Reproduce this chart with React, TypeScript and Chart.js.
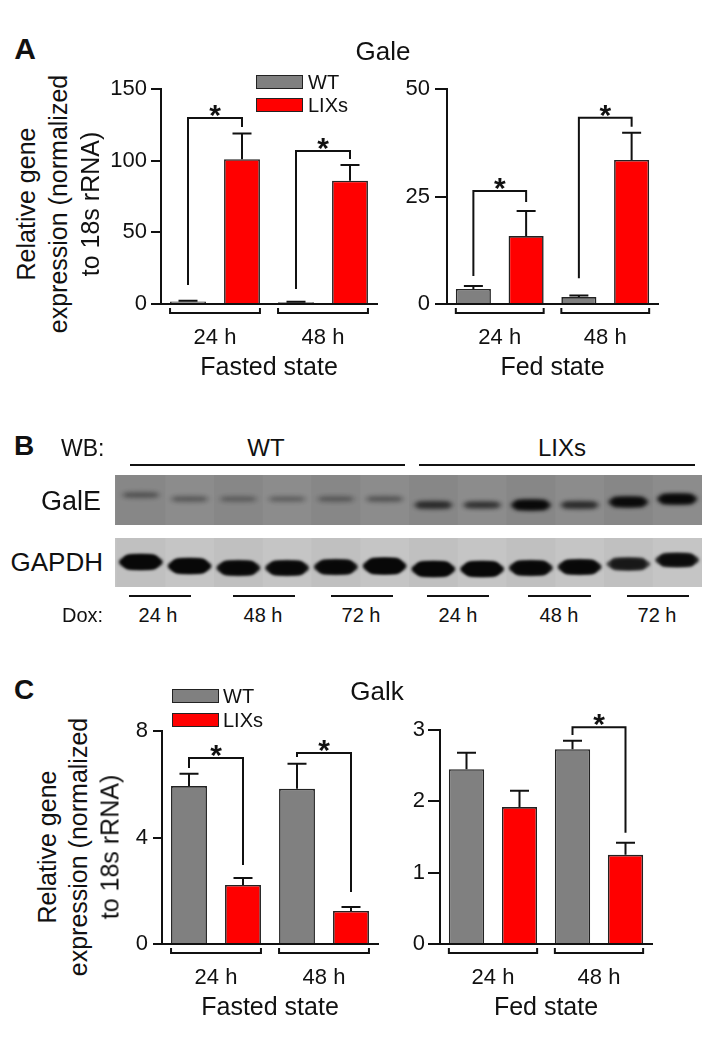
import React, { useEffect, useRef } from 'react';
import { Chart, registerables } from 'chart.js';
Chart.register(...registerables);

const FONT = '"Liberation Sans", Arial, Helvetica, sans-serif';

// ---------- DATA ----------
const timeLabels = ['24 h', '48 h'];
const seriesNames = ['WT', 'LIXs'];

// Panel A: Gale
const galeFastedWT = [1.8, 1.2];
const galeFastedWTErr = [0.4, 0.3];
const galeFastedLIX = [101, 86];
const galeFastedLIXErr = [18, 11];
const galeFedWT = [3.5, 1.6];
const galeFedWTErr = [0.7, 0.4];
const galeFedLIX = [15.8, 33.5];
const galeFedLIXErr = [5.8, 6.3];

// Panel C: Galk
const galkFastedWT = [5.93, 5.83];
const galkFastedWTErr = [0.46, 0.94];
const galkFastedLIX = [2.22, 1.24];
const galkFastedLIXErr = [0.26, 0.15];
const galkFedWT = [2.45, 2.73];
const galkFedWTErr = [0.23, 0.12];
const galkFedLIX = [1.92, 1.25];
const galkFedLIXErr = [0.23, 0.17];

// Significance brackets: [group, WT leg bottom, bracket top, LIXs leg bottom] (axis units)
const galeFastedSig = [[0, 13.3, 129.8, 123.5], [1, 10.5, 106.7, 101.2]];
const galeFedSig = [[0, 6.5, 26.3, 23.7], [1, 6.0, 43.3, 41.2]];
const galkFastedSig = [[0, 6.61, 6.99, 2.97], [1, 7.02, 7.17, 1.95]];
const galkFedSig = [[1, 2.93, 3.04, 1.56]];

// Panel B: western blot (12 lanes)
const blotLanes = [1, 2, 3, 4, 5, 6, 7, 8, 9, 10, 11, 12];
const blotGroups = ['WT', 'LIXs'];
const blotDoxLabels = ['24 h', '48 h', '72 h', '24 h', '48 h', '72 h'];
const galEIntensity = [0.24, 0.22, 0.2, 0.2, 0.21, 0.24, 0.5, 0.45, 0.92, 0.5, 0.9, 0.95];
const galEMigration = [20, 24, 24, 24, 24, 24, 30, 30, 30, 30, 27, 24];
const gapdhIntensity = [1, 1, 0.95, 0.95, 0.95, 1.1, 1, 1, 0.95, 0.95, 0.7, 0.85];
const gapdhMigration = [24, 28, 30, 30, 29, 28, 31, 31, 30, 29, 26, 22];

// ---------- helpers ----------
type Rect = { x: number; y: number; w: number; h: number };
type Area = { l: number; r: number; t: number; b: number };

function BarPanel(props: {
  rect: Rect; area: Area; wt: number[]; wtErr: number[]; lix: number[]; lixErr: number[];
  yMax: number; yStep: number; tickLen: number; tickPad: number; xTitle: string; sig: number[][];
}) {
  const ref = useRef<HTMLCanvasElement>(null);
  useEffect(() => {
    const { rect, area } = props;
    const errs = [props.wtErr, props.lixErr];
    const extras = {
      id: 'extras',
      afterDatasetsDraw(chart: any) {
        const ctx = chart.ctx as CanvasRenderingContext2D;
        const ys = chart.scales.y;
        ctx.save();
        ctx.strokeStyle = '#111';
        ctx.lineWidth = 2;
        ctx.lineCap = 'butt';
        // error bars
        chart.data.datasets.forEach((ds: any, di: number) => {
          const meta = chart.getDatasetMeta(di);
          meta.data.forEach((bar: any, i: number) => {
            const yt = ys.getPixelForValue(ds.data[i] + errs[di][i]);
            ctx.beginPath();
            ctx.moveTo(bar.x, bar.y);
            ctx.lineTo(bar.x, yt);
            ctx.moveTo(bar.x - 9.5, yt);
            ctx.lineTo(bar.x + 9.5, yt);
            ctx.stroke();
          });
        });
        // category brackets below axis
        const m0 = chart.getDatasetMeta(0), m1 = chart.getDatasetMeta(1);
        const by = chart.chartArea.bottom + 9;
        m0.data.forEach((b0: any, i: number) => {
          const b1 = m1.data[i];
          const xl = b0.x - b0.width / 2, xr = b1.x + b1.width / 2;
          ctx.beginPath();
          ctx.moveTo(xl, by - 5);
          ctx.lineTo(xl, by);
          ctx.lineTo(xr, by);
          ctx.lineTo(xr, by - 5);
          ctx.stroke();
        });
        // significance brackets
        props.sig.forEach((s) => {
          const g = s[0];
          const xl = m0.data[g].x, xr = m1.data[g].x;
          const yl = ys.getPixelForValue(s[1]);
          const yt = ys.getPixelForValue(s[2]);
          const yr = ys.getPixelForValue(s[3]);
          ctx.beginPath();
          ctx.moveTo(xl, yl);
          ctx.lineTo(xl, yt);
          ctx.lineTo(xr, yt);
          ctx.lineTo(xr, yr);
          ctx.stroke();
          ctx.fillStyle = '#111';
          ctx.font = `bold 30px ${FONT}`;
          ctx.textAlign = 'center';
          ctx.textBaseline = 'alphabetic';
          ctx.fillText('*', (xl + xr) / 2, yt + 7);
        });
        ctx.restore();
      },
    };
    const chart = new Chart(ref.current!, {
      type: 'bar',
      data: {
        labels: timeLabels,
        datasets: [
          { label: seriesNames[0], data: props.wt, backgroundColor: '#808080', borderColor: '#222', borderWidth: 1.6 },
          { label: seriesNames[1], data: props.lix, backgroundColor: '#ff0000', borderColor: '#222', borderWidth: 1.6 },
        ],
      },
      options: {
        responsive: false,
        animation: false,
        events: [],
        layout: { padding: { left: 0, bottom: 0, top: area.t - rect.y, right: rect.x + rect.w - area.r } },
        datasets: { bar: { categoryPercentage: 1, barPercentage: 0.665 } },
        plugins: { legend: { display: false }, tooltip: { enabled: false } },
        scales: {
          x: {
            grid: { display: false, drawTicks: false },
            border: { display: true, color: '#111', width: 2 },
            ticks: { color: '#111', padding: 21, font: { family: FONT, size: 22 } },
            title: { display: true, text: props.xTitle, color: '#111', padding: 0, font: { family: FONT, size: 25 } },
            afterFit: (s: any) => { s.height = rect.y + rect.h - area.b; },
          },
          y: {
            min: 0,
            max: props.yMax,
            grid: { display: true, drawOnChartArea: false, drawTicks: true, tickLength: props.tickLen, color: '#111', lineWidth: 2 },
            border: { display: true, color: '#111', width: 2 },
            ticks: { stepSize: props.yStep, color: '#111', padding: props.tickPad, font: { family: FONT, size: 22 } },
            afterFit: (s: any) => { s.width = area.l - rect.x; },
          },
        },
      },
      plugins: [extras],
    } as any);
    return () => chart.destroy();
  }, []);
  const { rect } = props;
  return (
    <canvas ref={ref} width={rect.w} height={rect.h}
      style={{ position: 'absolute', left: rect.x, top: rect.y, width: rect.w, height: rect.h }} />
  );
}

function BlotPanel(props: { rect: Rect }) {
  const ref = useRef<HTMLCanvasElement>(null);
  useEffect(() => {
    const strips = [
      { top: 0, bottom: 50, bg: '#8a8a8a', inten: galEIntensity, mig: galEMigration, bw: 0.84, base: 4, gain: 6, blur: 2 },
      { top: 63, bottom: 112, bg: '#c4c4c4', inten: gapdhIntensity, mig: gapdhMigration, bw: 0.9, base: 6, gain: 9, blur: 1.5 },
    ];
    const blot = {
      id: 'blot',
      beforeDatasetsDraw(chart: any) {
        const ctx = chart.ctx as CanvasRenderingContext2D;
        const xs = chart.scales.x, ys = chart.scales.y;
        ctx.save();
        strips.forEach((s) => {
          const y0 = ys.getPixelForValue(s.top), y1 = ys.getPixelForValue(s.bottom);
          ctx.fillStyle = s.bg;
          ctx.fillRect(xs.left, y0, xs.right - xs.left, y1 - y0);
          blotLanes.forEach((ln, i) => {
            const xa = xs.getPixelForValue(ln - 0.5), xb = xs.getPixelForValue(ln + 0.5);
            ctx.fillStyle = i % 2 ? 'rgba(255,255,255,0.025)' : 'rgba(0,0,0,0.02)';
            ctx.fillRect(xa, y0, xb - xa, y1 - y0);
          });
          ctx.save();
          ctx.beginPath();
          ctx.rect(xs.left, y0, xs.right - xs.left, y1 - y0);
          ctx.clip();
          ctx.filter = `blur(${s.blur}px)`;
          blotLanes.forEach((ln, i) => {
            const it = s.inten[i];
            const cx = xs.getPixelForValue(ln);
            const w = xs.getPixelForValue(ln + s.bw / 2) - xs.getPixelForValue(ln - s.bw / 2);
            const h = s.base + s.gain * it;
            const cy = ys.getPixelForValue(s.top + s.mig[i]);
            ctx.fillStyle = `rgba(8,8,8,${Math.min(1, it)})`;
            ctx.beginPath();
            ctx.ellipse(cx, cy, w / 2, h / 2, 0, 0, Math.PI * 2);
            ctx.fill();
            ctx.beginPath();
            (ctx as any).roundRect(cx - w * 0.4, cy - h / 2, w * 0.8, h, h / 2.5);
            ctx.fill();
          });
          ctx.restore();
        });
        ctx.restore();
      },
    };
    const chart = new Chart(ref.current!, {
      type: 'scatter',
      data: {
        datasets: [
          { label: 'GalE', data: blotLanes.map((l, i) => ({ x: l, y: galEMigration[i] })), pointRadius: 0 },
          { label: 'GAPDH', data: blotLanes.map((l, i) => ({ x: l, y: 63 + gapdhMigration[i] })), pointRadius: 0 },
        ],
      },
      options: {
        responsive: false,
        animation: false,
        events: [],
        layout: { padding: 0 },
        plugins: { legend: { display: false }, tooltip: { enabled: false } },
        scales: {
          x: { type: 'linear', min: 0.47, max: 12.51, display: false },
          y: { type: 'linear', min: 0, max: 112, reverse: true, display: false },
        },
      },
      plugins: [blot],
    } as any);
    return () => chart.destroy();
  }, []);
  const { rect } = props;
  return (
    <canvas ref={ref} width={rect.w} height={rect.h}
      style={{ position: 'absolute', left: rect.x, top: rect.y, width: rect.w, height: rect.h }} />
  );
}

function Txt(p: { x: number; y: number; s: string; size: number; bold?: boolean; align?: 'left' | 'center' | 'right'; rot?: boolean }) {
  const tx = p.align === 'left' ? '0' : p.align === 'right' ? '-100%' : '-50%';
  return (
    <div style={{
      position: 'absolute', left: p.x, top: p.y, fontSize: p.size, fontWeight: p.bold ? 'bold' : 'normal',
      lineHeight: 1, whiteSpace: 'nowrap', color: '#111',
      transform: `translate(${tx}, -50%)${p.rot ? ' rotate(-90deg)' : ''}`,
    }}>{p.s}</div>
  );
}

function HLine(p: { x1: number; x2: number; y: number }) {
  return <div style={{ position: 'absolute', left: p.x1, top: p.y - 1, width: p.x2 - p.x1, height: 2, background: '#111' }} />;
}

function LegendBox(p: { x: number; y: number; color: string }) {
  return <div style={{ position: 'absolute', left: p.x, top: p.y, width: 47, height: 14, boxSizing: 'border-box', background: p.color, border: '1.5px solid #222' }} />;
}

const yTitleLines = ['Relative gene', 'expression (normalized', 'to 18s rRNA)'];

export default function App() {
  const doxLineX = [[129, 191], [233, 295], [331, 393], [427, 489], [528, 591], [627, 689]];
  const doxLabelX = [158, 263, 361, 458, 559, 657];
  return (
    <div style={{ position: 'absolute', left: 0, top: 0, width: 723, height: 1048, background: '#fff', fontFamily: FONT, overflow: 'hidden' }}>
      <BarPanel rect={{ x: 100, y: 60, w: 290, h: 323 }} area={{ l: 161, r: 377, t: 89, b: 304 }}
        wt={galeFastedWT} wtErr={galeFastedWTErr} lix={galeFastedLIX} lixErr={galeFastedLIXErr}
        yMax={150} yStep={50} tickLen={10} tickPad={4} xTitle="Fasted state" sig={galeFastedSig} />
      <BarPanel rect={{ x: 390, y: 60, w: 290, h: 323 }} area={{ l: 447, r: 658, t: 89, b: 304 }}
        wt={galeFedWT} wtErr={galeFedWTErr} lix={galeFedLIX} lixErr={galeFedLIXErr}
        yMax={50} yStep={25} tickLen={12} tickPad={5} xTitle="Fed state" sig={galeFedSig} />
      <BlotPanel rect={{ x: 115, y: 475, w: 587, h: 112 }} />
      <BarPanel rect={{ x: 100, y: 700, w: 290, h: 323 }} area={{ l: 162, r: 378, t: 731, b: 944 }}
        wt={galkFastedWT} wtErr={galkFastedWTErr} lix={galkFastedLIX} lixErr={galkFastedLIXErr}
        yMax={8} yStep={4} tickLen={9} tickPad={5} xTitle="Fasted state" sig={galkFastedSig} />
      <BarPanel rect={{ x: 390, y: 700, w: 290, h: 323 }} area={{ l: 440, r: 652, t: 730, b: 944 }}
        wt={galkFedWT} wtErr={galkFedWTErr} lix={galkFedLIX} lixErr={galkFedLIXErr}
        yMax={3} yStep={1} tickLen={12} tickPad={3} xTitle="Fed state" sig={galkFedSig} />

      {/* Panel A texts */}
      <Txt x={25} y={49} s="A" size={30} bold />
      <Txt x={383} y={51} s="Gale" size={26} />
      {yTitleLines.map((t, i) => <Txt key={'ya' + i} x={[26, 58, 90][i]} y={204} s={t} size={25} rot />)}
      <LegendBox x={256} y={75} color="#808080" />
      <LegendBox x={256} y={98} color="#ff0000" />
      <Txt x={308} y={82} s={seriesNames[0]} size={20} align="left" />
      <Txt x={308} y={105} s={seriesNames[1]} size={20} align="left" />

      {/* Panel B texts */}
      <Txt x={24} y={446} s="B" size={28} bold />
      <Txt x={61} y={448} s="WB:" size={23} align="left" />
      <Txt x={266} y={448} s={blotGroups[0]} size={24} />
      <Txt x={562} y={448} s={blotGroups[1]} size={24} />
      <HLine x1={130} x2={405} y={465} />
      <HLine x1={419} x2={695} y={465} />
      <Txt x={101} y={501} s="GalE" size={27} align="right" />
      <Txt x={103} y={562} s="GAPDH" size={26} align="right" />
      <Txt x={62} y={615} s="Dox:" size={20} align="left" />
      {doxLineX.map((d, i) => <HLine key={'dl' + i} x1={d[0]} x2={d[1]} y={596} />)}
      {blotDoxLabels.map((t, i) => <Txt key={'dx' + i} x={doxLabelX[i]} y={615} s={t} size={20} />)}

      {/* Panel C texts */}
      <Txt x={24} y={690} s="C" size={28} bold />
      <Txt x={377} y={691} s="Galk" size={26} />
      {yTitleLines.map((t, i) => <Txt key={'yc' + i} x={[47, 78, 110][i]} y={847} s={t} size={25} rot />)}
      <LegendBox x={172} y={689} color="#808080" />
      <LegendBox x={172} y={713} color="#ff0000" />
      <Txt x={223} y={696} s={seriesNames[0]} size={20} align="left" />
      <Txt x={223} y={720} s={seriesNames[1]} size={20} align="left" />
    </div>
  );
}
